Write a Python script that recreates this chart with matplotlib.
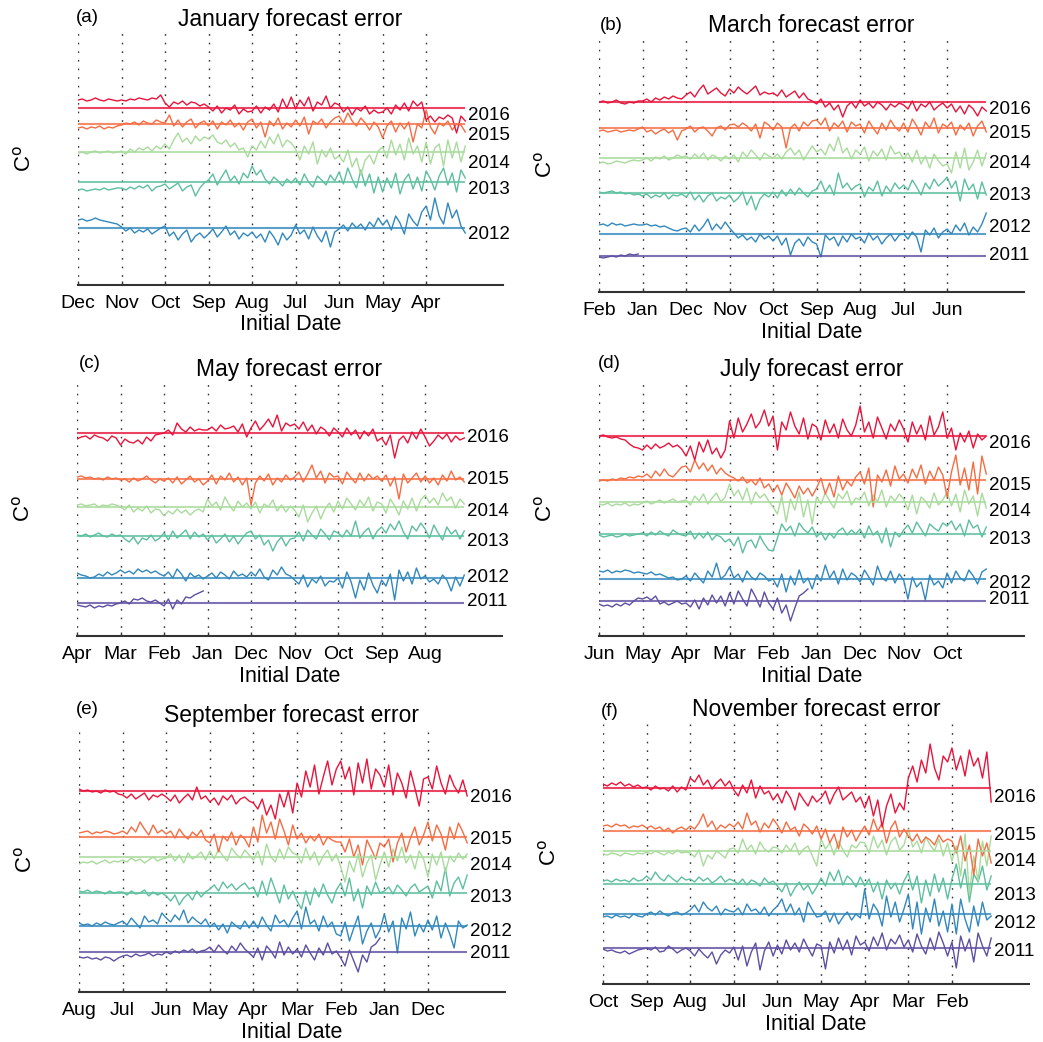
import numpy as np
import matplotlib.pyplot as plt

plt.rcParams['font.family'] = ['Liberation Sans', 'DejaVu Sans']

# forecast error anomaly per initial date (every 3rd day), plot units, positive = warmer
years = ['2011', '2012', '2013', '2014', '2015', '2016']
colors = {'2016': '#E8143C', '2015': '#F46D43', '2014': '#A9DB9C',
          '2013': '#5DBF9E', '2012': '#3288BD', '2011': '#5E4FA2'}

# ---------- (a) January ----------
jan_months = ['Dec', 'Nov', 'Oct', 'Sep', 'Aug', 'Jul', 'Jun', 'May', 'Apr']
jan_2016 = [8, 9, 7, 8, 10, 8, 7, 9, 8, 7, 8, 7, 9, 8, 10, 9, 8, 10, 9, 13,
            5, 1, 6, 4, 7, 3, 6, 5, 2, 4, 1, -3, 2, -5, 0, -2, 3, -6, -1, -4,
            -3, 2, -5, 1, -2, 4, -4, 9, 0, 11, -1, 8, 2, 11, -3, 6, 3, 12, 0, 5,
            3, -4, 1, -7, 0, -3, 2, -6, -2, -5, -4, 0, -6, 3, -2, 5, -3, 7, 2, 6,
            -12, -8, -14, -9, -11, -7, -10, -25, -8, -13]
jan_2015 = [-4, -3, -5, -3, -4, -2, -5, -3, -4, -2, -1, 1, 0, 2, -1, 3, 1, 0, 4, 2,
            1, 9, -2, 4, -3, 2, 5, -4, 1, 3, -2, 3, -5, 2, -1, 4, -3, 1, -6, 2,
            5, -4, 2, -13, 3, -2, 6, -5, 1, -3, 4, -2, 7, -10, 3, 0, 5, -4, 2, 6,
            8, 1, 11, 3, -2, 6, 1, -6, 2, -3, -14, -2, 3, -8, 1, -5, 2, -18, 0, -4,
            14, -3, -10, 1, -2, 3, -6, 0, -1, -8]
jan_2014 = [-1, 0, -2, 0, 1, -1, 0, 1, -1, 0, 1, -2, 3, 0, 4, 2, 5, 1, 6, 3,
            8, 3, 12, 19, 10, 14, 8, 16, 11, 15, 13, 17, 10, 8, 12, 5, 9, 2, 4, -5,
            6, 2, 11, 4, 15, 8, 18, 5, 12, 9, 3, -8, 6, -2, 10, -12, 2, -5, 4, -7,
            -4, -10, 2, -15, -6, -23, -8, -3, -12, 1, 5, -6, 12, -3, 8, -8, 14, -2, 6, -10,
            10, -12, 4, 8, -14, 12, -6, 10, -10, 6]
jan_2013 = [-8, -7, -9, -8, -7, -8, -6, -8, -7, -6, -6, -8, -5, -7, -4, -6, -3, -9, -5, -4,
            -2, -7, -4, -1, -9, -5, -3, -14, -6, -1, 2, 8, -3, 5, 12, 1, 6, -2, 9, 4,
            16, 7, 12, 3, -2, 5, 1, -4, 3, -1, 4, -3, 8, 0, -5, 6, 2, -3, 7, 1,
            10, -2, 14, 3, -6, 12, -4, 8, -11, 5, -10, 4, -6, 9, -12, 2, 8, -7, 5, -9,
            11, 3, -8, 6, 14, -3, 9, -10, 12, 4]
jan_2012 = [8, 9, 7, 8, 10, 8, 7, 6, 5, 4, 1, -3, 0, -5, -2, -4, -1, -6, -3, 0,
            2, -8, -4, -12, -6, -2, -14, -8, -5, -10, -6, -1, -9, -4, 2, -7, -3, -11, -5, -8,
            -4, -10, -6, -14, -3, -9, -17, -5, -12, -7, 3, -6, -2, -11, 1, -8, -14, -3, -19, -4,
            -1, 3, -3, 5, 0, 4, -2, 6, 1, 10, 3, 8, -2, 12, 5, -6, 14, 7, 2, 16,
            22, 8, 30, 12, 4, 25, 10, 18, 2, -5]

# ---------- (b) March ----------
mar_months = ['Feb', 'Jan', 'Dec', 'Nov', 'Oct', 'Sep', 'Aug', 'Jul', 'Jun']
mar_2016 = [0, 1, -1, 0, 2, -1, -2, 0, -1, 1, 1, 3, 0, 4, 2, 5, 3, 6, 4, 3,
            7, 10, 5, 12, 17, 8, 11, 14, 9, 6, 13, 9, 15, 11, 8, 12, 16, 7, 10, 8,
            9, 6, 12, 5, 8, 11, 4, 9, 3, 1, -2, 3, -5, -1, -8, -3, -15, -4, 0, -6,
            2, -4, -1, -6, 0, -3, -8, -2, -5, -1, -3, -7, 1, -9, -2, -5, 0, -8, -4, -1,
            -6, -2, -10, -4, -12, -3, -7, -14, -5, -9]
mar_2015 = [-3, -2, -4, -3, -2, -4, -3, -2, -3, -1, 1, -4, -2, -6, -3, -1, -5, -2, -12, -3,
            -1, 2, -4, 0, 1, -3, -8, 0, 2, -2, 3, 4, 1, 5, 2, -3, 4, -10, 6, 3,
            -2, 5, 1, -20, 0, 4, -3, 6, 2, 7, 8, 3, 10, -3, 5, 1, 7, -4, 6, 2,
            4, -5, 7, 0, -6, 5, -2, 8, 1, -3, 5, -4, 9, 2, -7, 6, 0, 10, -5, 4,
            1, 6, -7, 3, -2, 5, -8, 2, 7, -4]
mar_2014 = [-5, -4, -6, -5, -3, -4, -5, -3, -2, -3, -2, 0, -3, 1, -1, 2, -2, 0, 3, 1,
            2, -1, 4, 0, 5, -2, 3, 1, -3, 2, -1, 3, -4, 6, 1, 8, 3, -2, 5, 2,
            0, 4, -1, 6, 10, 3, 8, -2, 5, 12, 6, 9, 3, 14, 7, 21, 5, 10, -1, 8,
            4, 11, -3, 7, 2, 9, -2, 12, 4, 6, -1, 5, -4, 8, -6, 2, -10, 4, -3, -8,
            -6, -15, 6, -10, 10, -12, -4, 8, -8, 5]
mar_2013 = [1, 0, 1, 2, 0, 1, -1, 0, -2, -1, -3, -1, -5, -2, -4, 0, -6, -2, -3, -1,
            -4, 1, -7, -2, -9, -3, 0, -8, -4, -6, -2, -9, -5, 1, -12, -3, -17, -6, -1, -4,
            1, -5, 3, -3, 4, -2, 5, 0, -4, 2, 4, 12, 1, 8, -2, 20, 5, 10, 3, 7,
            9, -4, 6, 2, 12, -3, 7, 1, 10, 4, 8, 3, 13, 6, -2, 10, 4, 14, 7, 11,
            16, 5, 12, -8, 14, 3, 9, -6, 11, -2]
mar_2012 = [9, 10, 8, 11, 9, 10, 8, 9, 10, 9, 9, 10, 8, 9, 7, 8, 6, 4, 3, 5,
            6, 2, 9, 3, 8, 15, 4, 10, 5, 12, 6, 1, -4, -1, -6, -3, -8, 0, -5, -2,
            -7, -2, -11, -4, -21, -9, -5, -12, -3, -8, -10, -23, -1, -6, -3, -12, -2, -8, 0, -5,
            -3, -9, 1, -6, -2, -10, -4, 0, -7, -1, 0, -5, 2, -3, -18, 4, -1, 6, -4, 2,
            5, 0, 9, 3, 11, -1, 7, 2, 10, 21]
mar_2011 = [-1, -2, -1, 0, -1, 1, 0, 2, 1, 2]

# ---------- (c) May ----------
may_months = ['Apr', 'Mar', 'Feb', 'Jan', 'Dec', 'Nov', 'Oct', 'Sep', 'Aug']
may_2016 = [-6, -4, -3, -6, -2, -4, -5, -8, -3, -5, -12, -6, -9, -10, -7, -11, -4, -8, -2, -1,
            0, 3, -2, 10, 4, 1, 6, 2, 4, 3, 3, 6, 2, 8, 4, 5, 7, 1, 9, -4,
            5, 12, 3, 8, 14, 6, 18, 2, 10, 7, 9, 4, 11, 2, 8, -1, 6, 3, -3, 5,
            1, -4, 5, -2, 3, -6, 2, -3, 4, -8, -5, -12, -2, -25, -7, -3, -10, 1, -6, 4,
            -4, -13, -8, -2, -6, -1, -9, -3, -7, -5]
may_2015 = [2, 3, 1, 2, 0, 1, -1, 2, 0, 1, -1, 0, -3, 1, -2, 0, 3, -1, -4, 0,
            -2, 1, -4, 2, -5, -1, 3, -3, 0, -6, -2, 4, -5, 3, -1, 6, -3, 2, -6, 1,
            -26, -4, 3, -2, 5, -6, 1, -3, 4, -1, 2, 7, -3, 5, 14, 1, 8, -4, 6, 2,
            3, -5, 7, 1, -4, 6, -2, 5, 0, 3, -2, 4, -7, 2, -20, 5, -4, 1, 6, -3,
            3, -4, 1, -6, 4, -2, 8, -1, 2, -3]
may_2014 = [2, 3, 1, 2, 3, 0, 2, 1, 3, 2, 0, -3, 2, -5, -1, -4, 1, -6, -2, -3,
            -9, -4, -7, -2, -6, -3, -8, -4, -2, -5, 8, 1, 5, -3, 10, 2, -4, 6, 0, 4,
            -2, 5, -6, 3, 0, 7, -4, 2, -5, 1, -3, -10, 2, -15, -6, 1, -12, -2, 4, -5,
            6, -2, 9, 3, -3, 7, 1, 10, -4, 5, 3, -6, 8, 1, -8, 6, -2, 9, -4, 7,
            12, 4, 9, 2, 14, 6, 10, -1, 8, 3]
may_2013 = [1, 0, 2, -1, 1, 3, 0, -1, 2, 0, 1, -3, -6, -1, -8, -2, -4, 1, -5, -2,
            3, -4, 5, -2, 2, 6, -3, 4, -1, 2, -4, 1, -7, -3, 2, -6, 0, -8, -2, 3,
            5, -3, 1, -9, -4, -15, -6, -1, -10, -3, -2, 4, -5, 6, 1, -3, 7, 2, -4, 5,
            3, -1, 6, 0, 15, -2, 4, 8, -3, 5, 9, 3, 12, 6, 15, 4, -3, 10, 5, 13,
            7, -2, 11, 3, -4, 9, 2, 6, -3, 5]
may_2012 = [5, 3, 2, 0, 1, 4, 2, 6, 3, 5, 8, 5, 7, 4, 9, 6, 8, 5, 7, 4,
            2, 6, 0, 9, 4, -3, 5, 1, 3, -1, 2, 5, 0, 6, 3, -1, 7, 2, 4, 1,
            6, 2, 9, 1, -2, 8, 3, 11, 4, 2, -2, -6, 3, -9, -1, -5, 2, -8, -3, -4,
            0, -10, 6, -4, -20, -2, -12, 5, -7, -15, -2, -8, 4, -22, 8, -3, 6, -6, 10, -1,
            2, -4, -1, -6, 3, -2, -13, 1, -8, 3]
may_2011 = [-2, -3, -4, -2, -5, -3, -4, -2, -3, -1, 0, 2, -1, 4, 3, 5, 2, 1, 3, 0,
            -3, 4, -6, 3, -1, 6, 5, 8, 10, 12]

# ---------- (d) July ----------
jul_months = ['Jun', 'May', 'Apr', 'Mar', 'Feb', 'Jan', 'Dec', 'Nov', 'Oct']
jul_2016 = [0, 1, -1, -2, -1, -3, -4, -8, -11, -12, -14, -9, -13, -8, -12, -10, -7, -11, -9, -13,
            -20, -10, -24, -6, -16, -4, -18, -12, -22, -14, 15, -2, 18, 4, 12, 22, 8, 14, 26, 10,
            20, -14, 14, 6, 24, 10, 2, 18, -3, 12, 9, -4, 16, 3, 12, -2, 17, 6, 0, 11,
            30, 4, 14, -2, 19, 8, -3, 12, 5, 16, 7, -6, 14, 2, 11, -4, 20, 1, 9, 24,
            -2, 8, -14, 3, -6, 5, -12, 2, -4, 0]
jul_2015 = [-1, 0, -1, 1, 0, 2, 1, 3, 2, 4, 3, 6, 2, 9, 4, 11, 5, 3, 8, 13,
            14, 8, 20, 11, 17, 9, 15, 6, 12, 7, 4, 2, -1, 3, -3, 0, -5, 2, -8, -4,
            -12, -5, -15, -3, -10, -18, -6, -14, -8, -16, -8, 2, -14, -3, -17, 4, -10, -1, -6, 3,
            8, -4, 12, -27, 5, -2, 10, -6, 14, 1, 6, -3, 11, 2, 15, -4, 9, 0, 13, 5,
            -17, 8, 25, -5, 12, -10, 18, -14, 24, 6]
jul_2014 = [-2, -3, -1, -4, -2, -3, -1, -4, -2, -3, -1, 1, -2, 0, 2, -1, 1, 3, 0, 1,
            2, -3, 6, 1, 8, -2, 4, 9, 0, 5, 18, 6, 12, 2, 14, -2, 10, 4, 8, 1,
            -5, -12, 6, -20, 3, -8, 10, -15, 2, -22, 5, -2, 9, 1, -6, 8, 3, 11, -3, 4,
            2, 10, -4, 7, 0, 12, -5, 6, 1, 8, 3, -8, 7, -12, 5, 1, -6, 9, -3, 2,
            10, -4, 8, -10, 12, -2, 6, -14, 9, -6]
jul_2013 = [-1, -3, -2, -1, -3, -2, 0, -2, -1, 0, 1, -2, 2, -1, 3, 0, -2, 4, 1, -1,
            -2, 3, -5, 1, -4, 2, -6, -1, -3, -8, -5, -12, -3, -19, -8, -6, -14, -2, -10, -16,
            -17, -4, 10, 3, 8, -2, 11, 5, 1, 7, -3, 2, -6, 1, -4, 3, 6, -1, 4, 0,
            5, -4, 8, -1, 3, -9, 6, -13, 2, -3, 4, 9, 1, 12, 5, -2, 10, 6, 3, 11,
            8, 13, 4, 10, -2, 14, 6, 9, -3, 7]
jul_2012 = [8, 7, 9, 6, 8, 7, 9, 8, 6, 7, 6, 5, 7, 4, 5, 3, 1, 2, -1, 0,
            3, -2, 6, 1, -4, 8, 2, 16, 0, 4, 12, 1, 5, -3, 8, 2, -1, 6, 3, -2,
            0, -8, 5, -13, 3, -6, 9, -4, 1, -10, 4, -2, 14, 1, 8, -5, 10, -1, 6, 3,
            -3, 9, 2, -6, 13, 1, -2, 8, -4, 5, -1, -20, 2, -8, -3, -21, 4, -6, -2, -9,
            6, -4, 8, 1, -2, 9, 3, -5, 7, 10]
jul_2011 = [-3, -5, -4, -6, -3, -5, -2, -4, 0, 3, 2, 4, 1, 5, -3, -1, -4, -2, 0, -3,
            -2, -6, 1, -8, 3, -4, 6, -2, 5, -5, 8, -3, 10, 2, -5, 12, 4, -6, 9, -2,
            -8, 3, -12, -4, -20, -7, 5, 8, 12]

# ---------- (e) September ----------
sep_months = ['Aug', 'Jul', 'Jun', 'May', 'Apr', 'Mar', 'Feb', 'Jan', 'Dec']
sep_2016 = [2, 0, 1, -1, 0, -2, 1, -1, 0, -3, -4, -7, -3, -8, -5, -2, -9, -4, -6, -3,
            -6, -10, -4, -12, -7, -3, -9, 4, -8, -5, -11, -7, -14, -5, -9, -4, -13, -8, -6, -10,
            -12, -18, -8, -24, -14, -28, -3, -16, 0, -22, 8, -6, 20, 4, 26, -3, 14, 30, 6, 22,
            30, 12, 24, -4, 28, 8, 32, 2, 22, 16, 4, 26, -4, 18, 8, -7, 20, 3, -15, 12,
            14, 2, 25, 8, -3, 16, 5, -2, 11, -5]
sep_2015 = [4, 5, 6, 3, 5, 4, 6, 5, 3, 4, 6, 3, 10, 5, 15, 8, 2, 12, 4, 7,
            3, 6, -1, 8, 2, -2, 5, 1, 7, -3, -6, 3, -15, 1, -4, 5, -8, 2, -2, -10,
            10, -5, 22, 4, 15, -2, 18, 6, -8, 12, -2, 4, -6, 1, -4, 3, -8, 0, -3, -5,
            -5, -15, -2, -20, -8, -28, -3, -12, -22, -6, -10, -2, -25, -6, 4, -15, -1, 10, -8, 2,
            15, -4, 12, 3, -13, 10, -2, 14, 5, -6]
sep_2014 = [-7, -5, -6, -4, -7, -5, -3, -6, -4, -5, -3, -5, -1, -4, -2, -6, -3, 0, -4, -2,
            -1, 3, -4, 2, -6, 4, -2, 1, 5, -3, 6, -2, 8, 1, -4, 9, 3, -1, 7, 2,
            -3, 6, -8, 13, 0, -5, 8, -2, 10, 4, 2, -6, 9, -3, 5, -8, 1, 7, -4, 3,
            -10, -25, -4, -15, 3, -20, -6, 2, -23, -8, 5, -10, 8, -4, 10, -6, 2, -12, 6, -2,
            -20, 3, -8, 5, -15, 1, -5, 4, -2, 3]
sep_2013 = [2, 1, 3, 0, 2, 1, -1, 2, 0, 1, 1, -2, 2, -1, 0, 3, -3, 1, -2, 0,
            -3, -8, -2, -12, -5, -1, -7, 2, -4, 1, 4, 8, 2, 11, 5, 9, 3, 7, 10, 4,
            6, -4, 12, -2, 15, 3, -10, 8, -6, 2, -8, -16, 2, -12, 5, -4, 9, -2, -10, 3,
            10, -3, 15, -8, 4, -15, 7, -2, 11, 0, 2, 6, -1, 8, 3, -3, 5, 9, 1, 4,
            7, -5, 12, 2, 25, -3, 10, 16, 4, 18]
sep_2012 = [3, 1, 2, 0, 3, 1, 4, 2, 1, 3, 5, 1, 8, 3, -2, 10, 4, 6, 2, 13,
            8, 4, 11, 6, 16, 3, 9, 5, 2, 7, -1, 3, -4, 2, -7, 4, 0, -3, 5, -2,
            5, -2, 9, 1, -5, 11, 3, 6, -1, 8, 15, -3, 19, 2, 6, -5, 10, -1, 4, -8,
            -10, 4, -15, -2, 10, -18, -5, 3, -12, -4, 12, -6, 5, -27, 8, -3, 14, -10, 2, -6,
            6, -4, 10, -12, 3, -8, -22, 5, -2, 1]
sep_2011 = [-5, -6, -5, -7, -6, -8, -5, -6, -9, -6, -4, -3, -5, -2, -4, -3, -1, -4, -2, -3,
            0, -2, 1, -1, 2, 0, 3, -1, 1, 2, 5, 0, 7, 2, -2, 6, 1, 9, 3, -1,
            -5, 4, -8, 6, 1, -6, 10, -3, 5, -2, 3, -5, 7, -1, -8, 4, -3, 9, -2, 1,
            -6, -14, 2, -9, -20, -3, -10, 5, 8, 14]

# ---------- (f) November ----------
nov_months = ['Oct', 'Sep', 'Aug', 'Jul', 'Jun', 'May', 'Apr', 'Mar', 'Feb']
nov_2016 = [4, 2, 5, 3, 6, 2, 4, 1, 3, 0, 1, -2, 2, -1, 0, -3, 2, -4, 1, -2,
            10, 6, 13, 3, 8, -1, 5, 9, 2, 7, -2, -8, 3, -5, 8, -10, 2, -6, -3, -12,
            -6, -15, -3, -10, -22, -5, -12, -18, -8, -14, -10, -3, -16, -6, 1, -12, -8, -4, -14, -9,
            -20, -8, -28, -12, -39, -18, -6, -25, -15, -22, 10, 22, 6, 28, 15, 44, 20, 8, 32, 26,
            40, 18, 32, 12, 38, 22, 30, 10, 36, -14]
nov_2015 = [5, 6, 4, 7, 5, 6, 3, 5, 4, 6, 3, 5, 2, 4, 0, 3, -2, 2, 4, 1,
            5, 2, 8, 17, 4, 10, 1, 6, 3, 7, 4, 9, 2, 18, 6, 10, -1, 8, 3, 12,
            6, -2, 9, 1, 4, -5, 7, 3, -3, 5, -8, 2, -12, -3, -18, 4, -6, 1, -10, -2,
            5, -4, 12, 0, 8, -12, 3, 10, -6, 2, -5, -10, -3, -12, -6, -9, -14, -4, -11, -8,
            -10, -22, -5, -30, -14, -44, -8, -25, -12, -32]
nov_2014 = [-3, -4, -2, -3, -5, -2, -3, -4, -2, -3, -1, -3, 0, -2, -4, -1, -3, 1, -2, -1,
            -2, -6, 1, -15, -4, -8, 0, -3, -7, 2, 3, -2, 12, 1, 6, -3, 9, 2, -1, 4,
            3, -2, 6, 0, 8, -4, 2, 5, -5, -15, 12, 2, 8, -4, 10, 1, -6, 6, 3, 9,
            8, -2, 15, 3, 11, -4, 9, 14, 1, 6, 22, 4, 10, -2, 14, 6, 0, 12, -5, 8,
            -10, 5, -25, 17, -43, -5, -30, 10, -15, 15]
nov_2013 = [3, 4, 2, 5, 3, 4, 2, 6, 3, 4, 8, 4, 12, 6, 3, 9, 5, 2, 7, 4,
            5, 2, 7, 3, 6, 1, 4, 8, 2, 5, 3, 0, 5, -1, 4, 2, -2, 6, 1, 3,
            -2, -8, 1, -12, -4, 2, -6, -1, -10, -3, 6, -2, 12, 3, 14, -1, 8, 4, -3, 7,
            -2, 5, -8, 2, -15, 4, -5, 1, -10, 3, 11, -6, 8, -19, 4, -12, 10, -8, 6, -15,
            5, 20, -4, 15, -18, 10, 2, 18, -6, 8]
nov_2012 = [-3, -2, -4, -1, -3, -2, -4, 0, -2, -3, 0, 2, -1, 3, 0, -2, 1, 2, -1, 1,
            4, 9, 2, 12, 6, 3, 8, -1, 5, 3, 2, 6, -1, 10, 3, 5, 0, 7, -2, 4,
            8, 15, 2, 10, -1, 6, -8, 12, 4, -3, -2, 3, -8, 1, -10, -3, 2, -6, 0, -4,
            25, -5, 10, 3, -12, 18, -3, 12, -8, 5, 20, -15, 12, -20, 6, -8, 15, -12, 3, -18,
            10, -20, 15, -5, -18, 8, -12, 12, -6, -2]
nov_2011 = [-1, -3, -2, -4, -5, -3, -6, -4, -2, -1, 0, -2, 1, -4, -3, 2, -1, -5, -2, 0,
            -3, -8, -1, -6, -10, -4, -16, -7, -2, -5, 1, -12, 2, -18, -4, 5, -22, -3, 6, -8,
            3, -6, 8, -2, 5, -4, 9, 0, -8, 4, 2, -21, 6, -5, 10, -2, 8, -7, 12, 3,
            6, -3, 11, 2, 15, -2, 9, 4, 13, 1, 8, -4, 14, 2, -6, 10, -2, 16, 5, -8,
            6, -20, 12, -3, 9, -14, 15, 2, -8, 10]

# ---------- layout (pixel boxes, stacking offsets, label heights) ----------
W, H = 1043, 1042
panels = [
    dict(tag='(a)', title='January forecast error', months=jan_months, box=(78, 503, 32, 285),
         data={'2016': jan_2016, '2015': jan_2015, '2014': jan_2014, '2013': jan_2013, '2012': jan_2012},
         off={'2016': 177, '2015': 161, '2014': 133, '2013': 103, '2012': 57},
         lab={'2016': 170, '2015': 149, '2014': 122, '2013': 96, '2012': 50}, tagxy=(76, 17)),
    dict(tag='(b)', title='March forecast error', months=mar_months, box=(599, 1024, 38, 292),
         data={'2016': mar_2016, '2015': mar_2015, '2014': mar_2014, '2013': mar_2013, '2012': mar_2012,
               '2011': mar_2011},
         off={'2016': 190, '2015': 164, '2014': 134, '2013': 99, '2012': 58, '2011': 36},
         lab={'2016': 182, '2015': 158, '2014': 129, '2013': 96, '2012': 64, '2011': 37}, tagxy=(600, 25)),
    dict(tag='(c)', title='May forecast error', months=may_months, box=(77, 502, 382, 636),
         data={'2016': may_2016, '2015': may_2015, '2014': may_2014, '2013': may_2013, '2012': may_2012,
               '2011': may_2011},
         off={'2016': 203, '2015': 157, '2014': 129, '2013': 100, '2012': 58, '2011': 33},
         lab={'2016': 198, '2015': 157, '2014': 124, '2013': 94, '2012': 59, '2011': 34}, tagxy=(79, 363)),
    dict(tag='(d)', title='July forecast error', months=jul_months, box=(599, 1024, 382, 636),
         data={'2016': jul_2016, '2015': jul_2015, '2014': jul_2014, '2013': jul_2013, '2012': jul_2012,
               '2011': jul_2011},
         off={'2016': 200, '2015': 156, '2014': 134, '2013': 102, '2012': 57, '2011': 35},
         lab={'2016': 193, '2015': 151, '2014': 124, '2013': 97, '2012': 52, '2011': 36}, tagxy=(598, 363)),
    dict(tag='(e)', title='September forecast error', months=sep_months, box=(79, 505, 728, 992),
         data={'2016': sep_2016, '2015': sep_2015, '2014': sep_2014, '2013': sep_2013, '2012': sep_2012,
               '2011': sep_2011},
         off={'2016': 201, '2015': 155, '2014': 135, '2013': 99, '2012': 66, '2011': 40},
         lab={'2016': 195, '2015': 152, '2014': 127, '2013': 94, '2012': 61, '2011': 39}, tagxy=(76, 710)),
    dict(tag='(f)', title='November forecast error', months=nov_months, box=(603, 1029, 722, 984),
         data={'2016': nov_2016, '2015': nov_2015, '2014': nov_2014, '2013': nov_2013, '2012': nov_2012,
               '2011': nov_2011},
         off={'2016': 196, '2015': 153, '2014': 133, '2013': 100, '2012': 70, '2011': 36},
         lab={'2016': 187, '2015': 148, '2014': 123, '2013': 89, '2012': 61, '2011': 32}, tagxy=(601, 711)),
]

STEP = 3        # days between plotted initial dates
XMAX = 293
END = 267

fig = plt.figure(figsize=(W / 100, H / 100), dpi=100)
fig.patch.set_facecolor('white')

for p in panels:
    l, r, t, b = p['box']
    ax = fig.add_axes([l / W, 1 - b / H, (r - l) / W, (b - t) / H])
    ax.set_xlim(0, XMAX)
    ax.set_ylim(0, b - t)
    for yr in years:
        if yr not in p['data']:
            continue
        vals = np.array(p['data'][yr], dtype=float)
        days = np.arange(len(vals)) * STEP
        c = colors[yr]
        ax.plot(days, p['off'][yr] + vals, color=c, lw=1.0, zorder=3)
        ax.hlines(p['off'][yr], 0, END, color=c, lw=1.5, alpha=0.8, zorder=4)
        ax.text(END + 2, p['lab'][yr], yr, fontsize=13.5, ha='left', va='center', clip_on=False)

    ax.set_xticks(np.arange(len(p['months'])) * 30)
    ax.set_xticklabels(p['months'])
    ax.set_yticks([])
    for s in ['left', 'top', 'right']:
        ax.spines[s].set_visible(False)
    ax.spines['bottom'].set_linewidth(1.5)
    ax.spines['bottom'].set_color('#333333')
    ax.tick_params(axis='x', direction='in', length=3, width=1, color='#333333', labelsize=14, pad=7)
    ax.grid(axis='x', color='#333333', linestyle=(0, (1.2, 5.0)), lw=1.0)
    ax.set_title(p['title'], fontsize=16.5, pad=4)
    ax.set_xlabel('Initial Date', fontsize=15.5, labelpad=2)
    ax.set_ylabel('C$^{\\mathrm{o}}$', fontsize=16)
    ax.yaxis.set_label_coords(-0.10, 0.5)
    fig.text(p['tagxy'][0] / W, 1 - p['tagxy'][1] / H, p['tag'], fontsize=13.5, ha='left', va='center')

fig.savefig('out.png', dpi=100, facecolor='white')
